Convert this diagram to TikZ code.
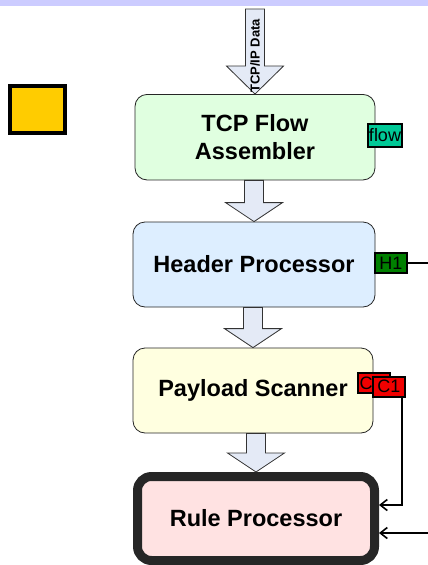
\documentclass[tikz,border=0pt]{standalone}
\usepackage{fontspec}
\setmainfont{Liberation Sans}
\usetikzlibrary{arrows.meta,calc}
\definecolor{bandc}{HTML}{CCCCFF}
\definecolor{arrfill}{HTML}{E4EAF6}
\definecolor{arrline}{HTML}{333333}
\definecolor{fillA}{HTML}{E0FFE0}
\definecolor{fillB}{HTML}{DDEEFF}
\definecolor{fillC}{HTML}{FFFFE0}
\definecolor{fillD}{HTML}{FFE2E2}
\definecolor{flowc}{HTML}{00C896}
\definecolor{hc}{HTML}{008000}
\definecolor{cc}{HTML}{F00000}
\definecolor{sq}{HTML}{FFCC00}
\newcommand\blockarr[3]{%
  \path let \p1=(#1), \p2=(#2) in
    [draw=arrline, line width=0.8pt, fill=arrfill, line join=miter]
    (\x2-9.5pt,\y1) -- (\x2-9.5pt,\y2+#3) -- (\x2-28.5pt,\y2+#3) -- (\x2,\y2)
    -- (\x2+28.5pt,\y2+#3) -- (\x2+9.5pt,\y2+#3) -- (\x2+9.5pt,\y1) -- cycle;}
\begin{document}
\begin{tikzpicture}[x=1pt,y=-1pt,
  stage/.style={draw=black!85, line width=0.8pt, rounded corners=12pt,
    minimum width=240pt, minimum height=85pt, align=center,
    font=\fontsize{23.5}{28}\selectfont\bfseries},
  tag/.style={draw=black, line width=2pt, inner sep=0.3pt, minimum height=20pt,
    font=\fontsize{18}{19}\selectfont},
  conn/.style={line width=1.6pt, -{Straight Barb[length=7pt,width=11pt]}}]
\useasboundingbox (0,0) rectangle (428,565);
\fill[bandc] (0,0) rectangle (428,6);
\draw[line width=4pt, fill=sq] (10,85.5) rectangle (64.5,132.5);

\node[stage, fill=fillA, minimum width=240pt, minimum height=85.5pt] (tcp) at (255,137.2) {TCP Flow\\Assembler};
\node[stage, fill=fillB, minimum width=242pt] (hdr) at (254,264.5) {Header Processor};
\node[stage, fill=fillC] (pay) at (253,390.5) {Payload Scanner};
\node[stage, fill=fillD, line width=9pt, minimum width=237pt, minimum height=84pt, rounded corners=14pt] (rule) at (256,518.5) {Rule Processor};

\coordinate (datain) at (255,9);
\blockarr{datain}{tcp.north}{28pt}
\node[rotate=90, font=\fontsize{13}{14}\selectfont\bfseries] (dlabel) at (255,56) {TCP/IP Data};
\blockarr{tcp.south}{hdr.north}{19pt}
\blockarr{hdr.south}{pay.north}{19pt}
\blockarr{pay.south}{rule.north}{19pt}

\node[tag, fill=flowc, minimum width=34pt, minimum height=23pt] (flow) at (385,135) {flow};
\node[tag, fill=hc, minimum width=32pt] (h1) at (391,263) {H1};
\node[tag, fill=cc, minimum width=32pt, text width=29pt, align=left] (c0) at (374,383) {C};
\node[tag, fill=cc, minimum width=32pt] (c1) at (389,386.5) {C1};

\coordinate (hout) at (428,263);
\draw[line width=1.6pt] (h1.east) -- (hout);
\coordinate (cturn) at (402,505);
\draw[conn] (c1.south -| cturn) -- (cturn) -- (cturn -| rule.east);
\coordinate (rin) at (428,533);
\draw[conn] (rin) -- (rin -| rule.east);
\end{tikzpicture}
\end{document}
